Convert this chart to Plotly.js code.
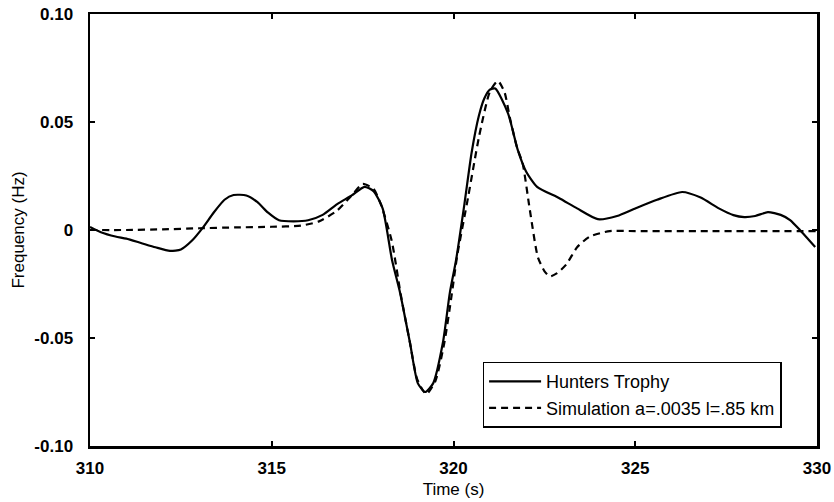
<!DOCTYPE html>
<html>
<head>
<meta charset="utf-8">
<script src="https://cdn.plot.ly/plotly-3.0.1.min.js"></script>
<style>
  html, body { margin: 0; padding: 0; background: #fff; }
  #chart { width: 834px; height: 502px; }
</style>
</head>
<body>
<div id="chart"></div>
<script>
// Measured frequency record (Hunters Trophy)
const trophyTime = [310.0, 310.3, 310.7, 311.0, 311.4, 311.8, 312.2, 312.5, 312.8, 313.1,
  313.4, 313.7, 313.95, 314.3, 314.6, 314.9, 315.2, 315.6, 316.0, 316.4,
  316.8, 317.2, 317.55, 317.8, 318.05, 318.31, 318.53, 318.8, 319.02, 319.22,
  319.44, 319.71, 319.9, 320.07, 320.3, 320.5, 320.7, 320.85, 321.0, 321.15,
  321.5, 321.77, 322.0, 322.3, 322.9, 323.4, 323.97, 324.5, 325.0, 325.6,
  326.29, 326.8, 327.3, 327.7, 328.0, 328.3, 328.65, 329.0, 329.26, 329.53, 329.95];
const trophyFreq = [0.0014, -0.001, -0.003, -0.004, -0.006, -0.008, -0.0097, -0.009, -0.005, 0.001,
  0.008, 0.014, 0.0162, 0.016, 0.013, 0.008, 0.0045, 0.004, 0.0045, 0.007,
  0.012, 0.016, 0.020, 0.018, 0.010, -0.014, -0.029, -0.052, -0.071, -0.075,
  -0.071, -0.052, -0.029, -0.014, 0.012, 0.036, 0.053, 0.061, 0.065, 0.0655,
  0.054, 0.037, 0.027, 0.020, 0.0148, 0.010, 0.005, 0.0065, 0.010, 0.014,
  0.0176, 0.015, 0.010, 0.0069, 0.006, 0.0065, 0.0083, 0.007, 0.0046, 0.000, -0.0079];

// Simulated response, a = .0035, l = .85 km
const simTime = [310.0, 311.0, 312.0, 313.0, 314.0, 315.0, 315.8, 316.3, 316.8, 317.2,
  317.5, 317.8, 318.0, 318.3, 318.55, 318.8, 319.0, 319.25, 319.5, 319.75,
  319.95, 320.1, 320.4, 320.7, 321.0, 321.22, 321.4, 321.55, 321.75, 321.9,
  322.1, 322.32, 322.5, 322.65, 322.85, 323.1, 323.4, 323.75, 324.3, 325.0,
  327.0, 330.0];
const simFreq = [0.0, 0.0, 0.0003, 0.0008, 0.0012, 0.0015, 0.002, 0.004, 0.009, 0.016,
  0.0213, 0.019, 0.012, -0.005, -0.030, -0.052, -0.069, -0.076, -0.070, -0.052,
  -0.030, -0.012, 0.015, 0.043, 0.064, 0.069, 0.064, 0.052, 0.038, 0.031,
  0.0093, -0.0125, -0.019, -0.0215, -0.020, -0.016, -0.008, -0.003, -0.0005, -0.0005,
  -0.0005, -0.0005];

const xTickVals = [310, 315, 320, 325, 330];
const xTickText = ['310', '315', '320', '325', '330'];
const yTickVals = [0.10, 0.05, 0, -0.05, -0.10];
const yTickText = ['0.10', '0.05', '0', '-0.05', '-0.10'];

const family = 'Liberation Sans, Arial, Helvetica, sans-serif';
const tickFont = { family: family, size: 17, color: '#000', weight: 'bold' };
const titleFont = { family: family, size: 17, color: '#000' };
const legendFont = { family: family, size: 18, color: '#000' };

const traces = [
  {
    x: trophyTime, y: trophyFreq, mode: 'lines', name: 'Hunters Trophy',
    line: { color: '#000', width: 2.2, shape: 'spline', smoothing: 0.6 }
  },
  {
    x: simTime, y: simFreq, mode: 'lines', name: 'Simulation a=.0035 l=.85 km',
    line: { color: '#000', width: 2.2, dash: '7px,5px', shape: 'spline', smoothing: 0.6 }
  }
];

const axisCommon = {
  showline: true, linecolor: '#000', linewidth: 2.5, mirror: 'ticks',
  ticks: 'inside', ticklen: 5, tickwidth: 2, tickcolor: '#000',
  showgrid: false, zeroline: false, tickfont: tickFont
};

const layout = {
  width: 834, height: 502,
  margin: { l: 90, r: 17, t: 14, b: 56 },
  paper_bgcolor: '#fff', plot_bgcolor: '#fff',
  font: titleFont,
  showlegend: true,
  legend: {
    x: 0.54, y: 0.195, xanchor: 'left', yanchor: 'top',
    bgcolor: '#fff', bordercolor: '#000', borderwidth: 1.5,
    font: legendFont, tracegroupgap: 0, itemwidth: 52
  },
  xaxis: Object.assign({}, axisCommon, {
    range: [310, 330], tickvals: xTickVals, ticktext: xTickText,
    ticklabelstandoff: 5,
    title: { text: 'Time (s)', font: titleFont, standoff: 6 }
  }),
  yaxis: Object.assign({}, axisCommon, {
    range: [-0.10, 0.10], tickvals: yTickVals, ticktext: yTickText,
    ticklabelstandoff: 11,
    title: { text: 'Frequency (Hz)', font: titleFont, standoff: 6 }
  })
};

Plotly.newPlot('chart', traces, layout, { staticPlot: true, displayModeBar: false });
</script>
</body>
</html>
